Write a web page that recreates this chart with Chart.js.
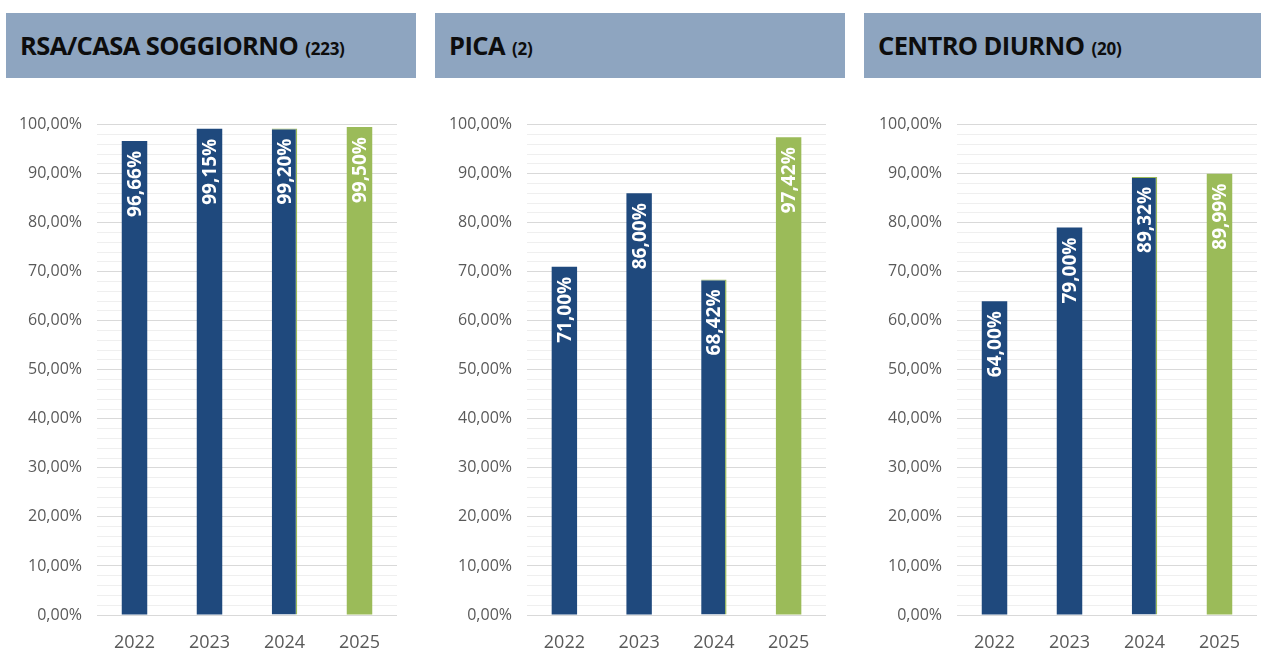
<!DOCTYPE html>
<html><head><meta charset="utf-8">
<script src="https://cdn.jsdelivr.net/npm/chart.js@4.4.1/dist/chart.umd.min.js"></script>
<style>
html,body{margin:0;padding:0;background:#fff;width:1261px;height:651px;overflow:hidden;font-family:"Open Sans",sans-serif;}
.hdr{position:absolute;top:13px;height:65px;background:#8EA5C0;color:#0d0d0d;font-weight:700;box-sizing:border-box;padding-left:14px;line-height:65px;white-space:nowrap;overflow:hidden;}
.hdr .t{font-size:25.5px;letter-spacing:-0.6px;display:inline-block;}
.hdr .n{font-size:17px;letter-spacing:-0.3px;margin-left:3px;}
.cv{position:absolute;top:100px;width:420px;height:551px;}
</style></head><body>
<div class="hdr" style="left:6px;width:410px"><span class="t">RSA/CASA SOGGIORNO</span> <span class="n">(223)</span></div>
<div class="hdr" style="left:435px;width:410px"><span class="t">PICA</span> <span class="n">(2)</span></div>
<div class="hdr" style="left:864px;width:410px"><span class="t">CENTRO DIURNO</span> <span class="n">(20)</span></div>
<div class="cv" style="left:0px"><canvas id="c1" width="420" height="551"></canvas></div>
<div class="cv" style="left:430px"><canvas id="c2" width="420" height="551"></canvas></div>
<div class="cv" style="left:860px"><canvas id="c3" width="401" height="551"></canvas></div>
<script>
const years = ["2022","2023","2024","2025"];
const rsaValues = [96.66, 99.15, 99.20, 99.50];
const picaValues = [71.00, 86.00, 68.42, 97.42];
const centroValues = [64.00, 79.00, 89.32, 89.99];
const barColors = ["#1F497D","#1F497D","#1F497D","#9BBB59"];

const fmt = v => v.toFixed(2).replace('.', ',') + '%';

const labelPlugin = {
  id: 'barLabels',
  afterDatasetsDraw(chart) {
    const ctx = chart.ctx;
    const meta = chart.getDatasetMeta(0);
    const data = chart.data.datasets[0].data;
    ctx.save();
    ctx.fillStyle = '#ffffff';
    ctx.font = 'bold 19px "Open Sans"';
    ctx.textAlign = 'right';
    ctx.textBaseline = 'middle';
    meta.data.forEach((bar, i) => {
      ctx.save();
      ctx.translate(bar.x + 1, bar.y + 10);
      ctx.rotate(-Math.PI / 2);
      ctx.fillText(fmt(data[i]), 0, 0);
      ctx.restore();
    });
    ctx.restore();
  }
};

function makeChart(id, values, rightPad) {
  new Chart(document.getElementById(id), {
    type: 'bar',
    data: {
      labels: years,
      datasets: [{
        data: values,
        backgroundColor: barColors,
        borderColor: ["#1F497D","#1F497D","#9BBB59","#9BBB59"],
        borderWidth: [0, 0, {top:1, right:1.5, left:0, bottom:0}, 0],
        borderSkipped: 'bottom',
        barPercentage: 0.34,
        categoryPercentage: 1.0
      }]
    },
    options: {
      responsive: false,
      animation: false,
      layout: { padding: { left: 0, right: rightPad, top: 24, bottom: 0 } },
      plugins: { legend: { display: false }, tooltip: { enabled: false } },
      scales: {
        x: {
          grid: { display: false, drawTicks: false },
          border: { display: false },
          ticks: { color: '#595959', font: { family: '"Open Sans"', size: 18 }, padding: 17 },
          afterFit(s) { s.height = 36; }
        },
        y: {
          min: 0, max: 100,
          afterBuildTicks(s) { s.ticks = []; for (let v = 0; v <= 100; v += 2) s.ticks.push({ value: v }); },
          grid: {
            drawTicks: false,
            color: c => (c.tick && c.tick.value % 10 === 0) ? '#d9d9d9' : '#efefef',
            lineWidth: 1
          },
          border: { display: false },
          ticks: {
            color: '#595959', font: { family: '"Open Sans"', size: 16 }, padding: 15,
            autoSkip: false,
            callback: v => (v % 10 === 0) ? v.toFixed(2).replace('.', ',') + '%' : ''
          },
          afterFit(s) { s.width = 97; }
        }
      }
    },
    plugins: [labelPlugin]
  });
}
makeChart('c1', rsaValues, 23);
makeChart('c2', picaValues, 24);
makeChart('c3', centroValues, 4);
</script>
</body></html>
